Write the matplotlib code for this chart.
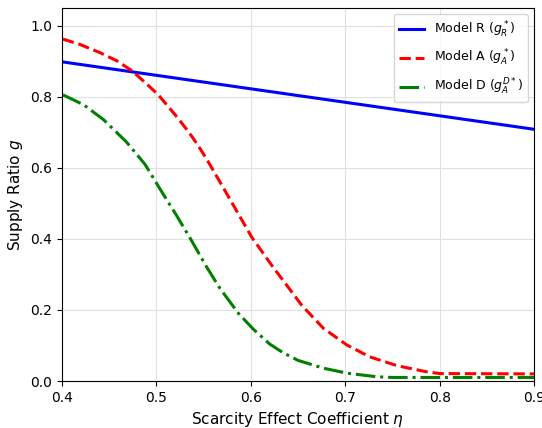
import matplotlib
matplotlib.use("Agg")
import matplotlib.pyplot as plt

# values
eta_r = [0.40, 0.90]
g_r = [0.899, 0.709]

eta_a = [0.401, 0.419, 0.440, 0.458, 0.474, 0.490, 0.502, 0.522, 0.534, 0.543,
         0.553, 0.567, 0.580, 0.601, 0.613, 0.624, 0.634, 0.654, 0.677, 0.702,
         0.726, 0.755, 0.786, 0.80, 0.90]
g_a = [0.963, 0.948, 0.925, 0.902, 0.874, 0.836, 0.806, 0.743, 0.702, 0.668,
       0.626, 0.562, 0.502, 0.405, 0.360, 0.319, 0.284, 0.213, 0.148, 0.101,
       0.068, 0.043, 0.026, 0.021, 0.02]

eta_d = [0.401, 0.423, 0.444, 0.468, 0.488, 0.504, 0.511, 0.520, 0.536, 0.553,
         0.567, 0.587, 0.603, 0.620, 0.634, 0.650, 0.677, 0.702, 0.733, 0.75,
         0.90]
g_d = [0.806, 0.778, 0.736, 0.674, 0.610, 0.540, 0.510, 0.472, 0.401, 0.322,
       0.262, 0.190, 0.145, 0.104, 0.080, 0.058, 0.036, 0.022, 0.012, 0.01,
       0.01]

fig = plt.figure(figsize=(5.42, 4.28), dpi=100)
ax = fig.add_axes([0.1144, 0.1098, 0.871, 0.871])

ax.plot(eta_r, g_r, color='blue', lw=2.2, label=r'Model R ($g_R^*$)')
ax.plot(eta_a, g_a, color='red', lw=2.2, ls='--', label=r'Model A ($g_A^*$)')
ax.plot(eta_d, g_d, color='green', lw=2.2, ls='-.', label=r'Model D ($g_A^{D*}$)')

ax.set_xlim(0.4, 0.9)
ax.set_ylim(0, 1.05)
ax.set_xlabel(r'Scarcity Effect Coefficient $\eta$', fontsize=11)
ax.set_ylabel(r'Supply Ratio $g$', fontsize=11)
ax.tick_params(labelsize=10)
ax.grid(True, color='#e0e0e0', lw=0.8)
ax.legend(loc='upper right', fontsize=9, labelspacing=0.7)

fig.savefig('out.png', dpi=100)
